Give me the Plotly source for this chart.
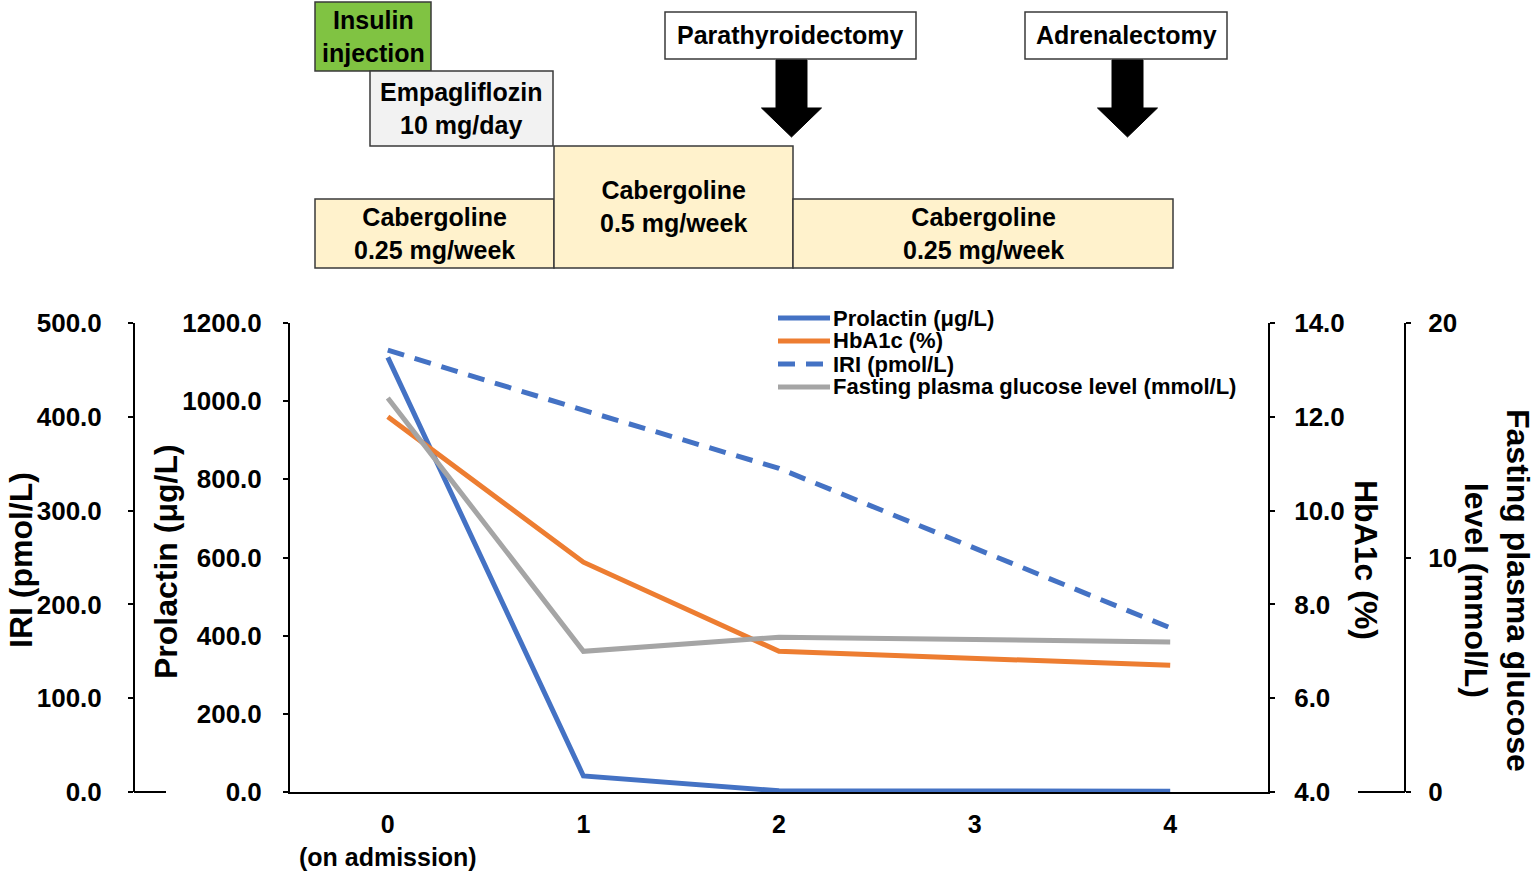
import plotly.graph_objects as go

# ---------------- data ----------------
x_labels = ["0<br>(on admission)", "1", "2", "3", "4"]
prolactin = [1112, 41, 3, None, 2]          # µg/L
hba1c = [12.0, 8.9, 7.0, None, 6.7]         # %
iri = [471, 407, 345, None, 175]            # pmol/L
fpg = [16.8, 6.0, 6.6, None, 6.4]           # mmol/L

prl_ticks = [0, 200, 400, 600, 800, 1000, 1200]
iri_ticks = [0, 100, 200, 300, 400, 500]
hba_ticks = [4, 6, 8, 10, 12, 14]
fpg_ticks = [0, 10, 20]

W, H = 1535, 872
def px(x):
    return x / W
def py(y):
    return 1 - y / H

FONT = "Liberation Sans, Arial, sans-serif"
NARROW = "Liberation Sans Narrow, Arial Narrow, Liberation Sans, sans-serif"
BLUE, ORANGE, GRAY = "#4472C4", "#ED7D31", "#A5A5A5"
IRI_DASH = "17px,11px"

# legend order
series = [
    dict(y=prolactin, name="Prolactin (μg/L)", color=BLUE, dash="solid", axis="y"),
    dict(y=hba1c, name="HbA1c (%)", color=ORANGE, dash="solid", axis="y3"),
    dict(y=iri, name="IRI (pmol/L)", color=BLUE, dash=IRI_DASH, axis="y2"),
    dict(y=fpg, name="Fasting plasma glucose level (mmol/L)", color=GRAY, dash="solid", axis="y4"),
]
draw_order = [1, 3, 0, 2]  # orange bottom, then gray, blue, dashed blue

fig = go.Figure()
for i in draw_order:
    s = series[i]
    fig.add_trace(go.Scatter(x=x_labels, y=s["y"], name=s["name"], mode="lines",
                             line=dict(color=s["color"], width=5, dash=s["dash"]),
                             yaxis=s["axis"], connectgaps=True, showlegend=False))

ydom = [py(792), py(323)]
tickfont = dict(family=FONT, size=26, color="black", weight="bold")
axcommon = dict(showgrid=False, zeroline=False, showline=True, linecolor="black", linewidth=2,
                ticks="outside", ticklen=5, tickwidth=2, tickcolor="black", tickfont=tickfont,
                domain=ydom)

fig.update_layout(
    width=W, height=H,
    margin=dict(l=0, r=0, t=0, b=0, autoexpand=False),
    paper_bgcolor="white", plot_bgcolor="white",
    xaxis=dict(domain=[px(290), px(1268)], type="category", categoryarray=x_labels,
               range=[-0.5, 4.5], showgrid=False, zeroline=False, showline=True,
               linecolor="black", linewidth=2, ticks="", ticklabelstandoff=9,
               tickfont=dict(family=NARROW, size=25, color="black", weight="bold")),
    yaxis=dict(range=[0, 1200], tickvals=prl_ticks,
               ticktext=[f"{v:.1f}" for v in prl_ticks],
               side="left", anchor="x", ticklabelstandoff=16, **axcommon),
    yaxis2=dict(range=[0, 500], tickvals=iri_ticks,
                ticktext=[f"{v:.1f}" for v in iri_ticks],
                side="left", overlaying="y", anchor="free", position=px(134),
                ticklabelstandoff=21, **axcommon),
    yaxis3=dict(range=[4, 14], tickvals=hba_ticks,
                ticktext=[f"{v:.1f}" for v in hba_ticks],
                side="right", overlaying="y", anchor="x", ticklabelstandoff=14, **axcommon),
    yaxis4=dict(range=[0, 20], tickvals=fpg_ticks, ticktext=[str(v) for v in fpg_ticks],
                side="right", overlaying="y", anchor="free", position=px(1405),
                ticklabelstandoff=12, **axcommon),
    showlegend=False,
)

shapes = []
annotations = []

# little baseline stubs on the free axes
shapes.append(dict(type="line", xref="paper", yref="paper", x0=px(134), x1=px(166),
                   y0=py(792), y1=py(792), line=dict(color="black", width=2)))
shapes.append(dict(type="line", xref="paper", yref="paper", x0=px(1358), x1=px(1405),
                   y0=py(792), y1=py(792), line=dict(color="black", width=2)))

# legend (drawn by hand to match the compact spacing)
leg_font = dict(family=FONT, size=22, color="black", weight="bold")
for i, s in enumerate(series):
    yy = 318 + 23 * i
    shapes.append(dict(type="line", xref="paper", yref="paper", x0=px(778), x1=px(830),
                       y0=py(yy), y1=py(yy),
                       line=dict(color=s["color"], width=5, dash=s["dash"])))
    annotations.append(dict(text=s["name"], x=px(831), y=py(yy), xanchor="left",
                            font=leg_font))

# axis titles
title_font = dict(family=FONT, size=32, color="black", weight="bold")
annotations += [
    dict(text="IRI (pmol/L)", x=px(21), y=py(560), textangle=-90, font=title_font),
    dict(text="Prolactin (μg/L)", x=px(166), y=py(562), textangle=-90, font=title_font),
    dict(text="HbA1c (%)", x=px(1366), y=py(560), textangle=90, font=title_font),
    dict(text="Fasting plasma glucose<br>level (mmol/L)", x=px(1497), y=py(590),
         textangle=90, font=title_font),
]

# top treatment diagram
boxes = [
    # x0, y0, x1, y1, fill, text
    (315, 2, 431, 71, "#80C342", "Insulin<br>injection"),
    (370, 71, 553, 146, "#F2F2F2", "Empagliflozin<br>10 mg/day"),
    (665, 12, 916, 59, "#FFFFFF", "Parathyroidectomy"),
    (1025, 12, 1227, 59, "#FFFFFF", "Adrenalectomy"),
    (315, 199, 554, 268, "#FFF2CC", "Cabergoline<br>0.25 mg/week"),
    (554, 146, 793, 268, "#FFF2CC", "Cabergoline<br>0.5 mg/week"),
    (793, 199, 1173, 268, "#FFF2CC", "Cabergoline<br>0.25 mg/week"),
]
box_font = dict(family=FONT, size=25, color="black", weight="bold")
for x0, y0, x1, y1, fill, txt in boxes:
    shapes.append(dict(type="rect", xref="paper", yref="paper", x0=px(x0), x1=px(x1),
                       y0=py(y1), y1=py(y0), fillcolor=fill,
                       line=dict(color="#3A3A3A", width=1.5), layer="above"))
    annotations.append(dict(text=txt, x=px((x0 + x1) / 2), y=py((y0 + y1) / 2),
                            font=box_font, showarrow=False))

# block arrows
def block_arrow(cx, top, head_top, tip, shaft_hw, head_hw):
    pts = [(cx - shaft_hw, top), (cx + shaft_hw, top), (cx + shaft_hw, head_top),
           (cx + head_hw, head_top), (cx, tip), (cx - head_hw, head_top),
           (cx - shaft_hw, head_top)]
    return "M " + " L ".join(f"{px(a):.5f},{py(b):.5f}" for a, b in pts) + " Z"

for cx in (791.5, 1127.5):
    shapes.append(dict(type="path", xref="paper", yref="paper",
                       path=block_arrow(cx, 60, 108, 137, 15.5, 30),
                       fillcolor="black", line=dict(color="black", width=1)))

for a in annotations:
    a.setdefault("showarrow", False)
    a.setdefault("xref", "paper")
    a.setdefault("yref", "paper")
    a.setdefault("xanchor", "center")
    a.setdefault("yanchor", "middle")

fig.update_layout(shapes=shapes, annotations=annotations)

fig.write_html("out.html", config={"displayModeBar": False},
               post_script="document.body.style.margin='0';")
